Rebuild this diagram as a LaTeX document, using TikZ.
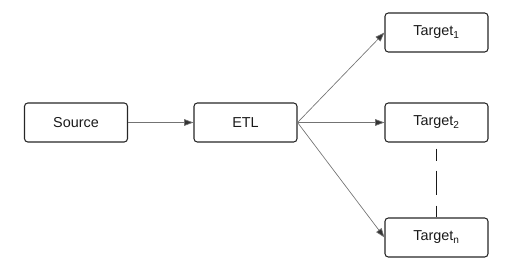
\documentclass[tikz,border=0pt]{standalone}
\usepackage{fontspec}
\setmainfont{Liberation Sans}
\usetikzlibrary{arrows.meta}
\begin{document}
\begin{tikzpicture}[x=0.75pt,y=-0.75pt,
  box/.style={draw=black!85, line width=0.8pt, rounded corners=2.5pt, minimum width=77.25pt, minimum height=29.25pt, inner sep=0pt, font=\fontsize{10.8pt}{12pt}\selectfont, text=black!90},
  conn/.style={draw=black!55, line width=0.5pt, -{Triangle[length=7pt,width=5pt,fill=black!80]}},
  dashconn/.style={draw=black!90, line width=0.8pt, dash pattern=on 0pt off 4.5pt on 9pt off 7.5pt on 18pt off 8.25pt on 12pt off 10pt}]
\useasboundingbox (0,0) rectangle (512,270);
\node[box] (src) at (76,122.5) {Source};
\node[box] (etl) at (245.5,122.5) {ETL};
\node[box] (t1) at (436.5,32.5) {Target\textsubscript{1}};
\node[box] (t2) at (436.5,122.5) {Target\textsubscript{2}};
\node[box] (tn) at (436.5,237.5) {Target\textsubscript{n}};
\draw[conn] (src) -- (etl);
\draw[conn] (etl.east) -- (t1.west);
\draw[conn] (etl.east) -- (t2.west);
\draw[conn] (etl.east) -- (tn.west);
\draw[dashconn] (t2.south) -- (tn.north);
\end{tikzpicture}
\end{document}
